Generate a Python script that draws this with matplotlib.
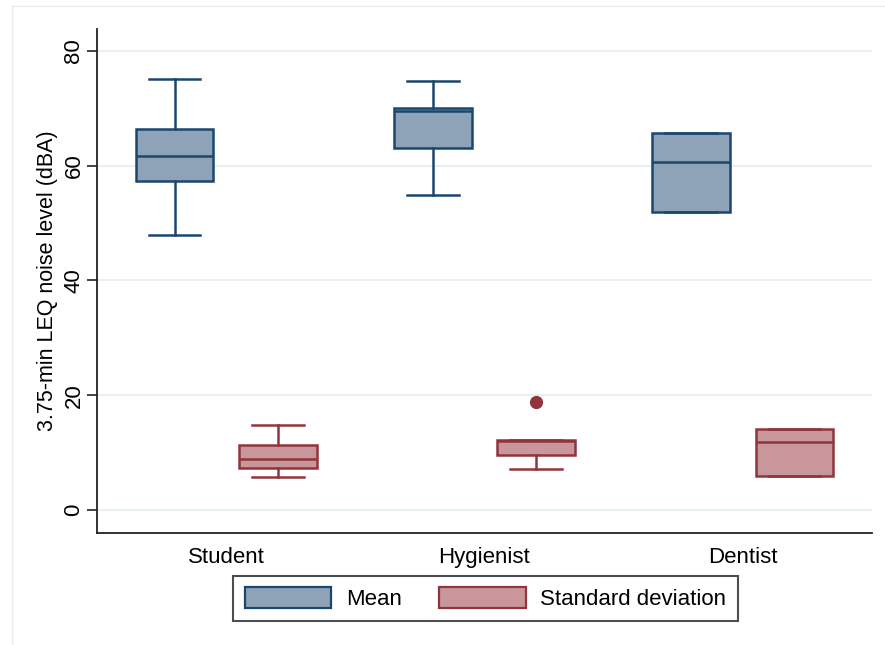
import matplotlib.pyplot as plt
import matplotlib
from matplotlib.patches import Patch
from matplotlib.lines import Line2D

matplotlib.rcParams['font.family'] = ['Liberation Sans', 'DejaVu Sans']

# Values (dBA)
groups = ["Student", "Hygienist", "Dentist"]

mean_q1 = [57.3, 63.0, 51.9]
mean_med = [61.7, 69.6, 60.7]
mean_q3 = [66.4, 70.0, 65.6]
mean_lo = [47.9, 54.9, 51.9]
mean_hi = [75.1, 74.8, 65.6]
mean_out = [[], [], []]

sd_q1 = [7.3, 9.6, 6.0]
sd_med = [8.9, 12.0, 11.8]
sd_q3 = [11.3, 12.2, 14.2]
sd_lo = [5.7, 7.2, 6.0]
sd_hi = [14.9, 12.2, 14.2]
sd_out = [[], [18.8], []]

navy = "#1a476f"
navy_fill = "#8fa3b8"
maroon = "#90353b"
maroon_fill = "#c8969b"


def make_stats(q1, med, q3, lo, hi, out):
    return [dict(q1=a, med=b, q3=c, whislo=d, whishi=e, fliers=f)
            for a, b, c, d, e, f in zip(q1, med, q3, lo, hi, out)]


fig = plt.figure(figsize=(8.85, 6.45), dpi=100)
ax = fig.add_axes([97 / 885, 1 - 533 / 645, 775 / 885, 504 / 645])

# faint outer graph-region border
fig.add_artist(Line2D([12 / 885, 12 / 885], [0, 1 - 6 / 645], color="#ebebeb", lw=1))
fig.add_artist(Line2D([12 / 885, 1], [1 - 6 / 645, 1 - 6 / 645], color="#ebebeb", lw=1))

pos = [1, 2, 3]


def draw(stats, offset, edge, fill):
    ax.bxp(stats, positions=[p + offset for p in pos], widths=0.3,
           patch_artist=True, manage_ticks=False,
           boxprops=dict(facecolor=fill, edgecolor=edge, linewidth=1.8),
           medianprops=dict(color=edge, linewidth=1.8),
           whiskerprops=dict(color=edge, linewidth=1.8),
           capprops=dict(color=edge, linewidth=1.8),
           capwidths=0.2,
           flierprops=dict(marker='o', markerfacecolor=edge, markeredgecolor=edge,
                           markersize=8.5))


draw(make_stats(mean_q1, mean_med, mean_q3, mean_lo, mean_hi, mean_out), -0.2, navy, navy_fill)
draw(make_stats(sd_q1, sd_med, sd_q3, sd_lo, sd_hi, sd_out), 0.2, maroon, maroon_fill)

ax.set_xlim(0.5, 3.5)
ax.set_ylim(-4.0, 83.8)
ax.set_yticks([0, 20, 40, 60, 80])
ax.set_xticks(pos)
ax.set_xticklabels(groups, fontsize=16)
ax.tick_params(axis='x', length=0, pad=10)
ax.tick_params(axis='y', length=7, width=1.2, pad=2, labelsize=16, color="#222222")
for lab in ax.get_yticklabels():
    lab.set_rotation(90)
    lab.set_va('center')
ax.set_ylabel("3.75-min LEQ noise level (dBA)", fontsize=15.5, labelpad=4)

ax.grid(axis='y', color="#e8f0f1", linewidth=1.6)
ax.set_axisbelow(True)
ax.spines['top'].set_visible(False)
ax.spines['right'].set_visible(False)
ax.spines['left'].set_linewidth(1.3)
ax.spines['bottom'].set_linewidth(1.3)
ax.spines['left'].set_color("#222222")
ax.spines['bottom'].set_color("#222222")

handles = [Patch(facecolor=navy_fill, edgecolor=navy, linewidth=1.6, label="Mean"),
           Patch(facecolor=maroon_fill, edgecolor=maroon, linewidth=1.6, label="Standard deviation")]
leg = fig.legend(handles=handles, loc='upper center', bbox_to_anchor=(485.5 / 885, 1 - 576 / 645),
                 ncol=2, fontsize=16, frameon=True, fancybox=False, handlelength=3.9,
                 handleheight=1.1, handletextpad=0.65, columnspacing=1.7, borderpad=0.5,
                 borderaxespad=0)
leg.get_frame().set_edgecolor("#222222")
leg.get_frame().set_linewidth(1.5)

fig.savefig("out.png", dpi=100, facecolor="white")
